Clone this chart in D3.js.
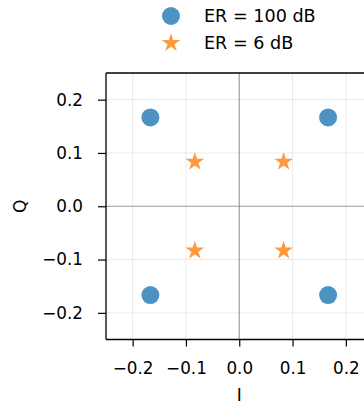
<!DOCTYPE html>
<html>
<head>
<meta charset="utf-8">
<script src="https://cdn.jsdelivr.net/npm/d3@7"></script>
<style>
  html, body { margin: 0; padding: 0; background: #fff; }
  svg { display: block; font-family: "DejaVu Sans", sans-serif; }
</style>
</head>
<body>
<svg id="chart" width="364" height="404"></svg>
<script>
// ---- data ----
const seriesNames = ["ER = 100 dB", "ER = 6 dB"];
const seriesColors = ["#1f77b4", "#ff7f0e"];
const er100_I = [0.1667, -0.1667, -0.1667, 0.1667];
const er100_Q = [0.1667, 0.1667, -0.1667, -0.1667];
const er6_I = [0.0833, -0.0833, -0.0833, 0.0833];
const er6_Q = [0.0833, 0.0833, -0.0833, -0.0833];
const tickValues = [-0.2, -0.1, 0.0, 0.1, 0.2];
const axisDomain = [-0.25, 0.25];
const xLabel = "I";
const yLabel = "Q";

// ---- layout ----
const svg = d3.select("#chart");
const plotLeft = 106, plotTop = 73, plotSize = 266.5;
const x = d3.scaleLinear().domain(axisDomain).range([plotLeft, plotLeft + plotSize]);
const y = d3.scaleLinear().domain(axisDomain).range([plotTop + plotSize, plotTop]);
const fmt = d3.format(".1f");

// grid
const grid = svg.append("g");
grid.selectAll("line.gx").data(tickValues).join("line")
  .attr("x1", d => x(d)).attr("x2", d => x(d))
  .attr("y1", y.range()[0]).attr("y2", y.range()[1])
  .attr("stroke", "#ebebeb").attr("stroke-width", 1);
grid.selectAll("line.gy").data(tickValues).join("line")
  .attr("y1", d => y(d)).attr("y2", d => y(d))
  .attr("x1", x.range()[0]).attr("x2", x.range()[1])
  .attr("stroke", "#ebebeb").attr("stroke-width", 1);

// zero lines
svg.append("line")
  .attr("x1", x(0)).attr("x2", x(0)).attr("y1", y.range()[0]).attr("y2", y.range()[1])
  .attr("stroke", "#808080").attr("stroke-opacity", 0.7).attr("stroke-width", 1.2);
svg.append("line")
  .attr("y1", y(0)).attr("y2", y(0)).attr("x1", x.range()[0]).attr("x2", x.range()[1])
  .attr("stroke", "#808080").attr("stroke-opacity", 0.7).attr("stroke-width", 1.2);

// points
const circleSym = d3.symbol().type(d3.symbolCircle).size(Math.PI * 9 * 9);
const starSym = d3.symbol().type(d3.symbolStar).size(108);
const pts100 = er100_I.map((v, i) => ({ i: v, q: er100_Q[i] }));
const pts6 = er6_I.map((v, i) => ({ i: v, q: er6_Q[i] }));

svg.append("g").selectAll("path").data(pts100).join("path")
  .attr("d", circleSym)
  .attr("transform", d => `translate(${x(d.i)},${y(d.q)})`)
  .attr("fill", seriesColors[0]).attr("fill-opacity", 0.8);
svg.append("g").selectAll("path").data(pts6).join("path")
  .attr("d", starSym)
  .attr("transform", d => `translate(${x(d.i)},${y(d.q)})`)
  .attr("fill", seriesColors[1]).attr("fill-opacity", 0.8);

// spines
svg.append("line").attr("x1", plotLeft).attr("x2", plotLeft)
  .attr("y1", plotTop).attr("y2", plotTop + plotSize)
  .attr("stroke", "#000").attr("stroke-width", 1.3);
svg.append("line").attr("x1", plotLeft).attr("x2", 364)
  .attr("y1", plotTop + plotSize).attr("y2", plotTop + plotSize)
  .attr("stroke", "#000").attr("stroke-width", 1.3);
svg.append("line").attr("x1", plotLeft).attr("x2", 364)
  .attr("y1", plotTop).attr("y2", plotTop)
  .attr("stroke", "#000").attr("stroke-width", 1.3);

// axes
const xAxis = d3.axisBottom(x).tickValues(tickValues).tickFormat(fmt).tickSize(7).tickPadding(15.5);
const yAxis = d3.axisLeft(y).tickValues(tickValues).tickFormat(fmt).tickSize(8).tickPadding(15);
const gx = svg.append("g").attr("transform", `translate(0,${plotTop + plotSize})`).call(xAxis);
const gy = svg.append("g").attr("transform", `translate(${plotLeft},0)`).call(yAxis);
[gx, gy].forEach(g => {
  g.select(".domain").remove();
  g.selectAll(".tick line").attr("stroke", "#000").attr("stroke-width", 1.2);
  g.selectAll(".tick text").attr("fill", "#000").style("font-size", "16.8px")
    .style("font-family", "'DejaVu Sans', sans-serif");
});

// axis labels
svg.append("text").attr("x", x(0)).attr("y", 401)
  .attr("text-anchor", "middle").style("font-size", "17px").text(xLabel);
svg.append("text").attr("transform", `translate(26,${y(0)}) rotate(-90)`)
  .attr("text-anchor", "middle").style("font-size", "17px").text(yLabel);

// legend
const legend = svg.append("g");
const legendRows = [
  { name: seriesNames[0], color: seriesColors[0], sym: circleSym, cy: 16 },
  { name: seriesNames[1], color: seriesColors[1], sym: starSym, cy: 43 }
];
legendRows.forEach(r => {
  legend.append("path").attr("d", r.sym).attr("transform", `translate(171,${r.cy})`)
    .attr("fill", r.color).attr("fill-opacity", 0.8);
  legend.append("text").attr("x", 204).attr("y", r.cy).attr("dy", "0.36em")
    .style("font-size", "17.6px").attr("fill", "#000").text(r.name);
});
</script>
</body>
</html>
